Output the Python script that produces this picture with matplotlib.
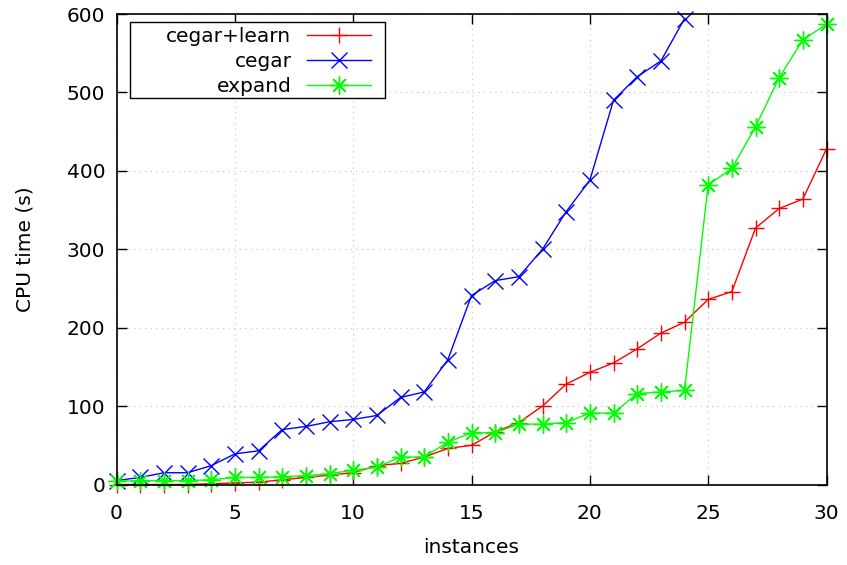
import matplotlib
matplotlib.use("Agg")
import matplotlib.pyplot as plt
from matplotlib.patches import Rectangle

instances = list(range(31))
cegar_learn = [0, 0, 0, 0, 1, 2, 3, 6, 9, 12, 15, 24, 27, 35, 46, 50, 67, 79, 100, 128, 143,
               155, 173, 193, 207, 236, 246, 327, 352, 364, 428]
cegar = [5, 9, 15, 15, 24, 39, 43, 70, 74, 80, 83, 88, 111, 118, 159, 241, 260, 265, 300, 348, 388,
         490, 520, 540, 594]
expand = [4, 5, 5, 5, 6, 9, 9, 10, 11, 14, 18, 22, 35, 35, 54, 66, 66, 77, 77, 79, 91,
          91, 116, 118, 120, 382, 403, 456, 519, 567, 587]

xticks = [0, 5, 10, 15, 20, 25, 30]
yticks = [0, 100, 200, 300, 400, 500, 600]

plt.rcParams['font.family'] = ['DejaVu Sans']
fig = plt.figure(figsize=(8.47, 5.65), dpi=100)
ax = fig.add_axes([116.5 / 847, 80.5 / 565, 710 / 847, 470.5 / 565])

ax.plot(instances[:len(cegar_learn)], cegar_learn, color='#ff0000', lw=1, marker='+', ms=12, mew=1,
        label='cegar+learn', clip_on=False)
ax.plot(instances[:len(cegar)], cegar, color='#0000ff', lw=1, marker='x', ms=11, mew=1,
        label='cegar', clip_on=False)
ax.plot(instances[:len(expand)], expand, color='#00ff00', lw=1, marker=(8, 2, 0), ms=13, mew=1,
        label='expand', clip_on=False)

ax.set_xlim(0, 30)
ax.set_ylim(0, 600)
ax.set_xticks(xticks)
ax.set_yticks(yticks)
ax.tick_params(direction='in', top=True, right=True, length=7, width=1, labelsize=14.5)
ax.tick_params(axis='x', pad=14)
ax.tick_params(axis='y', pad=8)
ax.grid(True, color='#c0c0c0', linestyle=(0, (1, 4)), lw=0.8)
for s in ax.spines.values():
    s.set_linewidth(1.2)
ax.set_xlabel('instances', fontsize=14.5, labelpad=11)
ax.set_ylabel('CPU time (s)', fontsize=14.5, labelpad=23)

# legend box (gnuplot style, fixed-width frame)
box = Rectangle((0.019, 0.8225), 0.359, 0.1595, transform=ax.transAxes, fill=True,
                facecolor='white', edgecolor='black', lw=1, zorder=4)
ax.add_patch(box)
leg = ax.legend(loc='upper right', bbox_to_anchor=(0.3585, 0.9716), markerfirst=False, fontsize=14.5,
                frameon=False, handlelength=3.2, borderpad=0, labelspacing=0.3,
                handletextpad=0.75, borderaxespad=0)
leg.set_zorder(5)

fig.savefig('out.png', dpi=100)
